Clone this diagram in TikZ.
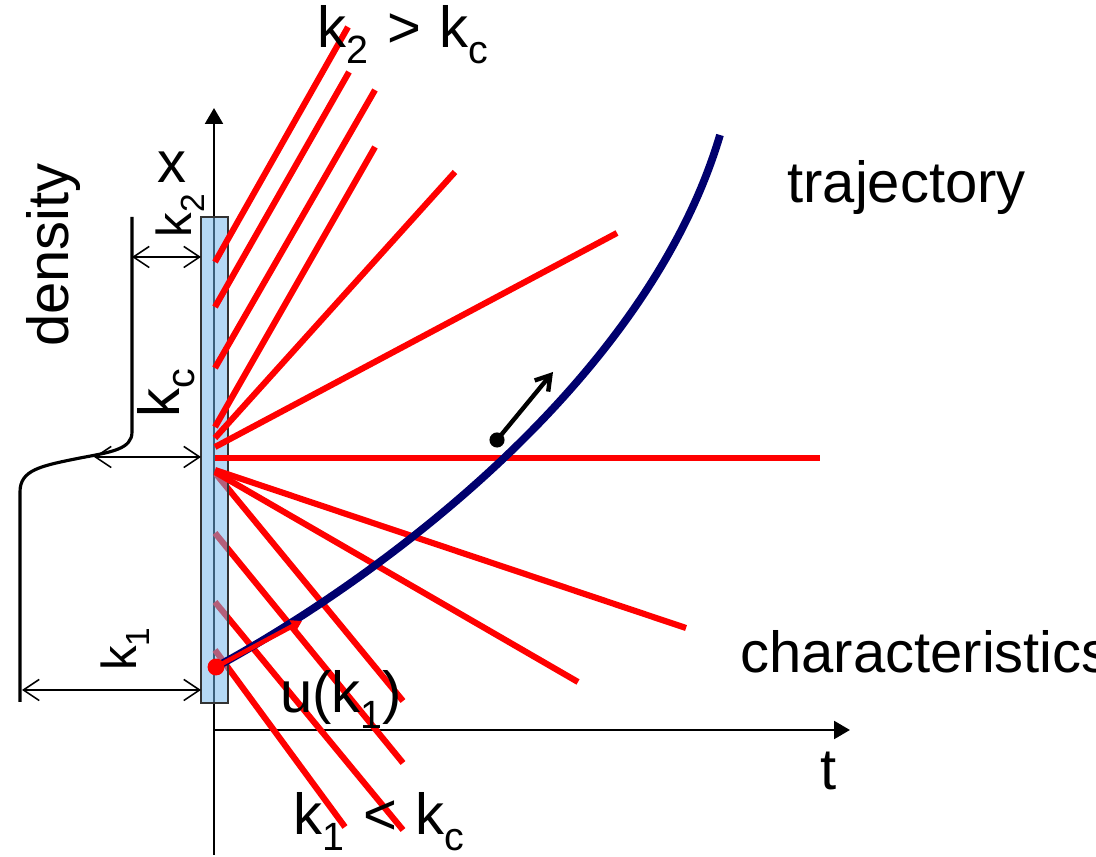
\documentclass[tikz,border=0pt]{standalone}
\usepackage{fontspec}
\setmainfont{Liberation Sans}
\usetikzlibrary{arrows.meta}
\definecolor{charred}{RGB}{255,0,0}
\definecolor{trajblue}{RGB}{0,0,110}
\definecolor{barfill}{RGB}{113,183,235}
\newcommand{\ks}[1]{k\raisebox{-0.26em}{\scalebox{0.68}{#1}}}

\begin{document}
\begin{tikzpicture}[
  x=0.02cm, y=-0.02cm,
  lbl/.style={font=\fontsize{33}{40}\selectfont, inner sep=0pt},
  klbl/.style={font=\fontsize{28}{34}\selectfont, inner sep=0pt, rotate=90},
  axis/.style={line width=1.7pt, -{Triangle[length=9pt,width=10pt]}},
  dim/.style={line width=0.9pt,
              {Straight Barb[length=9pt,width=12pt]}-{Straight Barb[length=9pt,width=12pt]}},
  char/.style={charred, line width=3.5pt},
  traj/.style={trajblue, line width=4.4pt},
  ]
  \useasboundingbox (0,0) rectangle (1096,857);

  % axes
  \coordinate (xbot) at (214,855);
  \coordinate (xtip) at (214,108);
  \coordinate (o) at (214,730);
  \coordinate (ttip) at (850,730);
  \draw[axis] (xbot) -- (xtip);
  \draw[axis] (o) -- (ttip);

  % characteristics under the bar
  \draw[char] (215,533) -- (403,763);
  \draw[char] (215,602) -- (403,830);
  \draw[char] (215,650) -- (345,827);
  \draw[char] (216,474) -- (403,701);

  % initial density bar
  \draw[draw=black!80, line width=0.8pt, fill=barfill, fill opacity=0.52]
    (201,217) rectangle (228,703);

  % characteristics from the bar
  \draw[char] (215,262) -- (348,27);
  \draw[char] (215,307) -- (349,72);
  \draw[char] (215,368) -- (375,90);
  \draw[char] (215,427) -- (375,147);
  \draw[char] (215,438) -- (455,172);
  \draw[char] (215,447) -- (617,233);
  \draw[char] (215,458) -- (820,458);
  \draw[char] (215,470) -- (686,628);
  \draw[char] (215,472) -- (578,682);

  % density profile
  \draw[line width=1.8pt] (132,217) -- (132,432)
    .. controls (132,449) and (112,452) .. (80,458)
    .. controls (40,466) and (20,470) .. (20,492) -- (20,702);

  % widths
  \draw[dim] (132,257) -- (201,257);
  \draw[dim] (94,457) -- (201,457);
  \draw[dim] (22,690) -- (201,690);

  % trajectory and speed
  \coordinate (start) at (216,667);
  \coordinate (finish) at (720,135);
  \coordinate (utip) at (302,621);
  \draw[traj] (start) .. controls (385,575) and (648,378) .. (finish);
  \draw[charred, line width=2.6pt, -{Triangle[length=6pt,width=7pt]}] (start) -- (utip);
  \fill[charred] (start) circle (4.8pt);

  \coordinate (car) at (497,440);
  \coordinate (cartip) at (553,372);
  \fill (car) circle (4.3pt);
  \draw[line width=2.5pt, -{Straight Barb[length=8pt,width=10pt]}] (car) -- (cartip);

  % labels
  \node[lbl, rotate=90] (dens) at (54,255) {density};
  \node[lbl, anchor=base west] (xlab) at (157,183) {x};
  \node[lbl, anchor=base west] (tlab) at (820,790) {t};
  \node[klbl] (k2lab) at (180,216) {\ks{2}};
  \node[klbl, font=\fontsize{33}{40}\selectfont] (kclab) at (166,393) {\ks{c}};
  \node[klbl] (k1lab) at (125,649) {\ks{1}};
  \node[lbl, anchor=base west] (fast) at (317,48) {\ks{2}\kern2pt{} > \kern1pt\ks{c}};
  \node[lbl, anchor=base west] (slow) at (293,835) {\ks{1}\kern2pt{} < \kern1pt\ks{c}};
  \node[lbl, anchor=base west] (ulab) at (280,713) {u(\ks{1})};
  \node[lbl, anchor=base west] (trajlab) at (787,203) {trajectory};
  \node[lbl, anchor=base west] (charlab) at (740,673) {characteristics};
\end{tikzpicture}
\end{document}
